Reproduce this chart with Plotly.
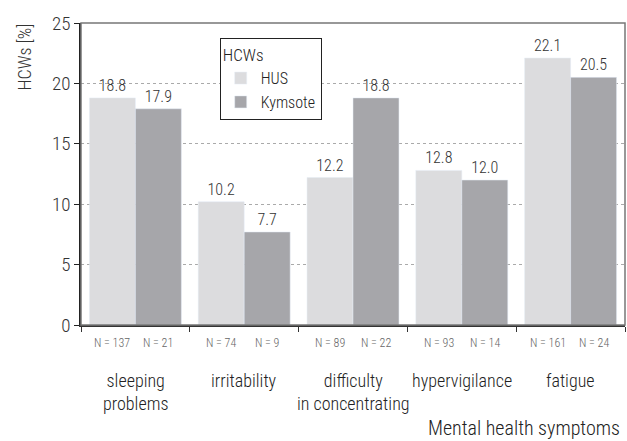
import plotly.graph_objects as go

categories = ["sleeping<br>problems", "irritability", "difficulty<br>in concentrating", "hypervigilance", "fatigue"]
hus_values = [18.8, 10.2, 12.2, 12.8, 22.1]
kym_values = [17.9, 7.7, 18.8, 12.0, 20.5]
hus_n = [137, 74, 89, 93, 161]
kym_n = [21, 9, 22, 14, 24]
y_ticks = [0, 5, 10, 15, 20, 25]

FONT = "Noto Sans Condensed, Roboto Condensed, Roboto, sans-serif"
W = 300
bargap = 0.155
x_idx = list(range(len(categories)))


def f(size, color="#222"):
    return dict(size=size, color=color, family=FONT, weight=W)


fig = go.Figure()
fig.add_trace(go.Bar(name="HUS", x=x_idx, y=hus_values, marker_color="#dcdcde",
                     text=[f"{v:.1f}" for v in hus_values], textposition="outside",
                     textfont=f(16, "#333"), cliponaxis=False))
fig.add_trace(go.Bar(name="Kymsote", x=x_idx, y=kym_values, marker_color="#a6a6aa",
                     text=[f"{v:.1f}" for v in kym_values], textposition="outside",
                     textfont=f(16, "#333"), cliponaxis=False))

ann = []
half = (1 - bargap) / 4
for i, cat in enumerate(categories):
    ann.append(dict(x=i, y=0, xref="x", yref="y", text=cat, showarrow=False,
                    yanchor="top", yshift=-43, font=f(18)))
    ann.append(dict(x=i - half, y=0, xref="x", yref="y", text=f"N = {hus_n[i]}", showarrow=False,
                    yanchor="middle", yshift=-18, font=f(12, "#666")))
    ann.append(dict(x=i + half, y=0, xref="x", yref="y", text=f"N = {kym_n[i]}", showarrow=False,
                    yanchor="middle", yshift=-18, font=f(12, "#666")))
ann.append(dict(x=1, y=0, xref="paper", yref="paper", text="Mental health symptoms", showarrow=False,
                xanchor="right", yanchor="middle", yshift=-103, xshift=-3, font=f(20)))
ann.append(dict(x=0, y=1, xref="paper", yref="paper", text="HCWs [%]", showarrow=False,
                textangle=-90, xanchor="center", yanchor="top", xshift=-57, yshift=1,
                font=f(18, "#333")))

fig.update_layout(
    width=627, height=441,
    margin=dict(l=81, r=2, t=23, b=116, autoexpand=False),
    plot_bgcolor="white", paper_bgcolor="white",
    barmode="group", bargap=bargap, bargroupgap=0,
    font=dict(family=FONT, color="#222", weight=W),
    annotations=ann,
    legend=dict(x=0.255, y=0.95, xanchor="left", yanchor="top",
                title=dict(text="HCWs", font=f(17)),
                font=f(16), bordercolor="#222", borderwidth=1,
                bgcolor="white", tracegroupgap=0, itemwidth=30),
    shapes=[dict(type="rect", xref="paper", yref="paper", x0=0, x1=1, y0=0, y1=1,
                 line=dict(color="#777", width=1.5), layer="above")],
)
fig.update_xaxes(type="linear", range=[-0.5, len(categories) - 0.5], showticklabels=False,
                 tickvals=[i - 0.5 for i in range(len(categories) + 1)],
                 ticks="outside", ticklen=5, tickcolor="#333", showgrid=False,
                 showline=True, linecolor="#333", linewidth=1.5, zeroline=False)
fig.update_yaxes(range=[0, 25], tickvals=y_ticks, ticks="outside", ticklen=5, tickcolor="#222",
                 tickfont=f(19, "#333"), automargin=False,
                 showline=True, linecolor="#222", linewidth=1.5,
                 showgrid=True, gridcolor="#aaa", griddash="dot", gridwidth=1, zeroline=False)

fig.write_html("out.html", config={"displayModeBar": False},
               post_script="document.body.style.margin='0';document.body.style.overflow='hidden';")
